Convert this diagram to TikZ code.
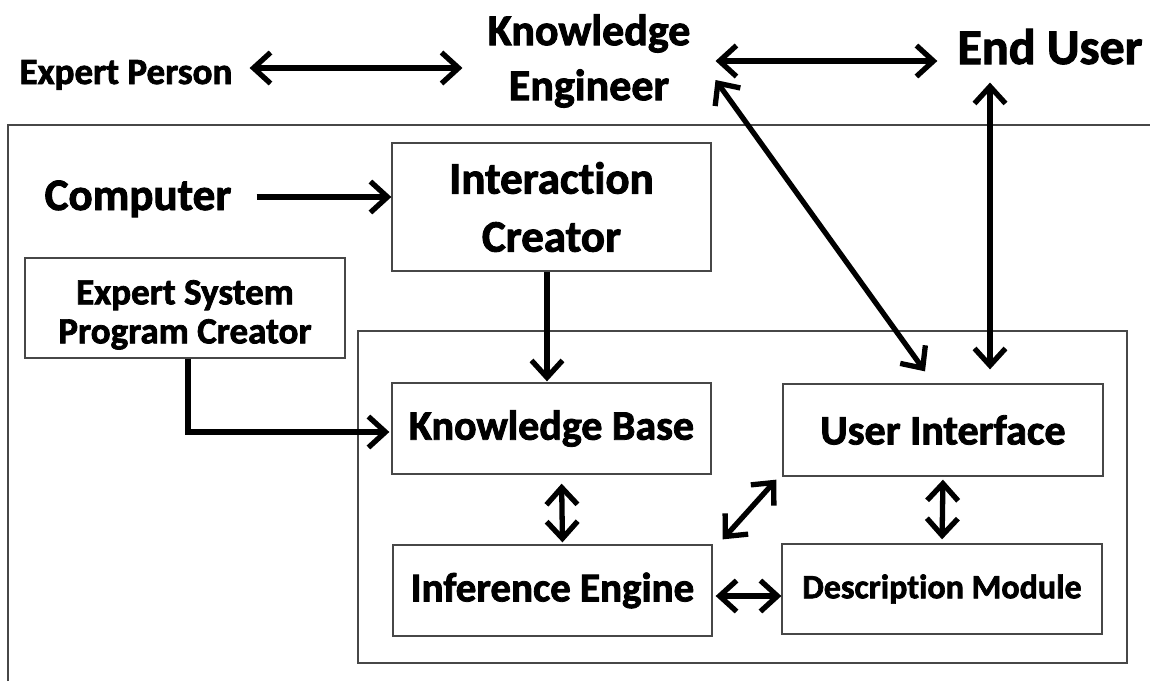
\documentclass[tikz,border=0pt]{standalone}
\usepackage{fontspec}
\setmainfont{Carlito}[Ligatures=CommonOff, BoldFeatures={FakeBold=2.0}]
\usetikzlibrary{arrows.meta}
\newcommand{\fz}[2]{\fontsize{#1pt}{#2pt}\selectfont}
\begin{document}
\begin{tikzpicture}[x=1pt,y=-1pt,
  box/.style={draw=black!72, line width=1.3pt, inner sep=0pt, align=center},
  lbl/.style={inner sep=0pt, align=center},
  tipb/.tip={Straight Barb[length=17pt,width=31pt]},
  arr/.style={line width=5.3pt, tipb-tipb},
  arrr/.style={line width=5.3pt, -tipb},
  frame/.style={draw=black!72, line width=1.3pt}]
\useasboundingbox (0,0) rectangle (1154,681);

% frames
\draw[frame] (8,681) -- (8,125) -- (1150,125);
\draw[frame] (358,331) rectangle (1127,663);

% free text labels
\node[lbl, anchor=base, inner xsep=17pt, font=\bfseries\fz{37}{44}] (ep) at (126,84) {Expert Person};
\node[lbl, inner xsep=25pt, font=\bfseries\fz{44}{55}] (ke) at (589,61) {Knowledge\\Engineer};
\node[lbl, anchor=base, inner xsep=20pt, inner ysep=18pt, font=\bfseries\fz{50}{60}] (eu) at (1050,64) {End User};
\node[lbl, anchor=base, inner xsep=25pt, font=\bfseries\fz{45}{54}] (comp) at (138,210) {Computer};

% boxes
\node[box, minimum width=319pt, minimum height=128pt, font=\bfseries\fz{45}{58}] (ic) at (551.5,207) {Interaction\\Creator};
\node[box, minimum width=320pt, minimum height=100pt, font=\bfseries\fz{37}{37}] (espc) at (185,308) {\rule{0pt}{38pt}Expert System\\[2pt]Program Creator};
\node[box, minimum width=319pt, minimum height=91pt, font=\bfseries\fz{42}{50}] (kb) at (551.5,428.5) {Knowledge Base};
\node[box, minimum width=319pt, minimum height=91pt, font=\bfseries\fz{41}{50}] (ie) at (552.5,590.5) {Inference Engine};
\node[box, minimum width=320pt, minimum height=92pt, font=\bfseries\fz{42}{50}] (ui) at (943,430) {User Interface};
\node[box, minimum width=320pt, minimum height=90pt, font=\bfseries\fz{34}{40}] (dm) at (942,589) {Description Module};

% connectors
\draw[arr] ([yshift=16pt]ep.base east) -- ([yshift=16pt]ep.base east -| ke.west);
\draw[arr] (ke.east) -- (ke.east -| eu.west);
\draw[arr] ([yshift=-19pt]ke.east) -- ([xshift=-18pt,yshift=12pt]ui.north);
\draw[arr, shorten <=14pt] ([xshift=47pt]ui.north) -- ([xshift=47pt]ui.north |- eu.south);
\draw[arrr] ([yshift=13pt]comp.base east) -- ([yshift=13pt]comp.base east -| ic.west);
\draw[arrr, shorten >=1pt] ([xshift=-4.5pt]ic.south) -- ([xshift=-4.5pt]kb.north);
\draw[arrr, shorten >=2pt] ([xshift=3pt]espc.south) |- ([yshift=-3.5pt]kb.west);
\draw[arr, shorten <=9pt, shorten >=2pt] ([xshift=10pt]kb.south) -- ([xshift=10pt]ie.north);
\draw[arr] ([xshift=10pt,yshift=5pt]ie.north east) -- ([xshift=-6pt,yshift=-3pt]ui.south west);
\draw[arr, shorten <=3pt, shorten >=4pt] (ui.south) -- (dm.north);
\draw[arr, shorten <=3pt] ([yshift=-5.5pt]ie.east) -- ([yshift=-5.5pt]ie.east -| dm.west);
\end{tikzpicture}
\end{document}
